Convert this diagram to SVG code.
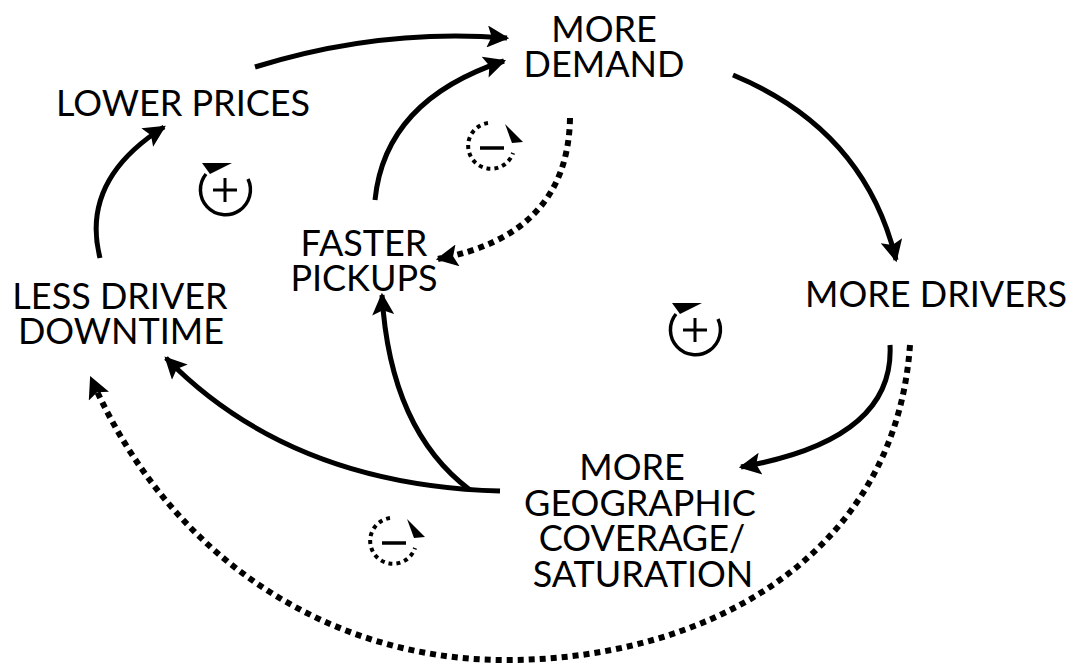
<svg xmlns="http://www.w3.org/2000/svg" width="1072" height="667" viewBox="0 0 1072 667">
<defs>
<style>
.t{font-family:Lato,"Open Sans",sans-serif;font-size:36px;fill:#000;text-anchor:middle}
.s{fill:none;stroke:#000;stroke-width:5}
.d{fill:none;stroke:#000;stroke-width:6;stroke-dasharray:6 5}
.ls{fill:none;stroke:#000;stroke-width:3.5}
.ld{fill:none;stroke:#000;stroke-width:4;stroke-dasharray:4 4}
</style>
<marker id="a" viewBox="0 0 10 10" refX="9" refY="5" markerWidth="27" markerHeight="22" markerUnits="userSpaceOnUse" orient="auto">
<path d="M0,0 L10,5 L0,10 L2,5 Z" fill="#000"/>
</marker>
<g id="plus">
<path d="M23,-11 A25,25 0 1 1 -19,-16" class="ls"/>
<path d="M-23,-27 L7,-27 L-15,-16 Z" fill="#000"/>
<path d="M-12,0 H12 M0,-12 V12" stroke="#000" stroke-width="3"/>
</g>
<g id="minus">
<path d="M-3,-23 A23,23 0 1 0 22,7" class="ld"/>
<path d="M14,-22 L32,-4 L21,-3 Z" fill="#000"/>
<path d="M-11,2 H13" stroke="#000" stroke-width="3.5"/>
</g>
</defs>
<rect width="1072" height="667" fill="#fff"/>
<g id="connectors">
<path class="s" d="M255,67 Q380,28 507,38" marker-end="url(#a)"/>
<path class="s" d="M733,75 Q865,130 896,260" marker-end="url(#a)"/>
<path class="s" d="M890,345 Q895,440 741,467" marker-end="url(#a)"/>
<path class="s" d="M500,491 Q290,485 166,358" marker-end="url(#a)"/>
<path class="s" d="M470,490 Q390,430 382,295" marker-end="url(#a)"/>
<path class="s" d="M375,200 Q385,100 504,61" marker-end="url(#a)"/>
<path class="s" d="M100,258 Q80,180 164,127" marker-end="url(#a)"/>
<path class="d" d="M570,118 Q568,235 438,259" marker-end="url(#a)"/>
<path class="d" d="M910,345 C895,560 700,662 500,660 C330,658 170,560 91,378" marker-end="url(#a)"/>
</g>
<g id="loops">
<use href="#plus" x="225" y="190"/>
<use href="#plus" x="695" y="330"/>
<use href="#minus" x="491" y="146"/>
<use href="#minus" x="393" y="541"/>
</g>
<g id="lower-prices"><text class="t" x="183" y="116">LOWER PRICES</text></g>
<g id="more-demand"><text class="t" x="604" y="42">MORE</text><text class="t" x="604" y="77">DEMAND</text></g>
<g id="faster-pickups"><text class="t" x="364" y="256">FASTER</text><text class="t" x="364" y="291">PICKUPS</text></g>
<g id="less-driver-downtime"><text class="t" x="120" y="309">LESS DRIVER</text><text class="t" x="121" y="344">DOWNTIME</text></g>
<g id="more-drivers"><text class="t" x="936" y="307">MORE DRIVERS</text></g>
<g id="more-geographic"><text class="t" x="632" y="480">MORE</text><text class="t" x="640" y="516">GEOGRAPHIC</text><text class="t" x="642" y="551">COVERAGE/</text><text class="t" x="643" y="587">SATURATION</text></g>
</svg>
